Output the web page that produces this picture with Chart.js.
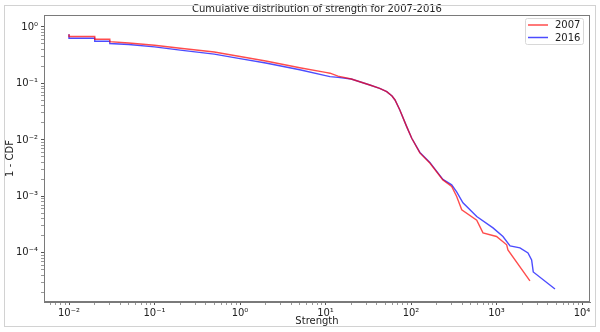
<!DOCTYPE html>
<html>
<head>
<meta charset="utf-8">
<script src="https://cdn.jsdelivr.net/npm/chart.js@4/dist/chart.umd.min.js"></script>
<style>
  body { margin: 0; background: #fff; }
  #wrap { position: relative; width: 600px; height: 332px; }
  #frame { position: absolute; left: 4px; top: 5px; width: 590px; height: 320px; border: 1px solid #d2d2d2; pointer-events: none; }
</style>
</head>
<body>
<div id="wrap">
  <canvas id="grafico-ccdf" width="600" height="332"></canvas>
  <div id="frame"></div>
</div>
<script>
// 1 - CDF of node strength, 2007
var strength2007 = [0.01, 0.01, 0.02, 0.02, 0.03, 0.03, 0.05, 0.1, 0.2, 0.5, 1, 2, 5, 10, 11.3, 14, 20, 33, 43, 52, 60, 65, 74, 89, 102, 127, 166, 236, 299, 342, 392, 587, 695, 1000, 1315, 1360, 2460];
var ccdf2007 = [0.74, 0.68, 0.68, 0.605, 0.605, 0.55, 0.52, 0.475, 0.42, 0.36, 0.3, 0.25, 0.19, 0.157, 0.152, 0.135, 0.12, 0.094, 0.082, 0.0716, 0.06, 0.051, 0.034, 0.0172, 0.0107, 0.0059, 0.0039, 0.00196, 0.0015, 0.001, 0.00058, 0.00038, 0.000226, 0.000195, 0.000139, 0.000113, 0.000032];

// 1 - CDF of node strength, 2016
var strength2016 = [0.01, 0.01, 0.02, 0.02, 0.03, 0.03, 0.05, 0.1, 0.2, 0.5, 1, 2, 5, 10, 11.3, 14, 20, 33, 43, 52, 60, 65, 74, 89, 102, 127, 166, 236, 299, 342, 405, 587, 910, 1190, 1440, 1880, 2335, 2575, 2690, 4830];
var ccdf2016 = [0.74, 0.63, 0.63, 0.56, 0.56, 0.51, 0.49, 0.445, 0.39, 0.33, 0.275, 0.23, 0.175, 0.138, 0.132, 0.128, 0.12, 0.094, 0.082, 0.0716, 0.06, 0.051, 0.034, 0.0172, 0.0107, 0.006, 0.004, 0.002, 0.0016, 0.0012, 0.00077, 0.00044, 0.000277, 0.000195, 0.000133, 0.000123, 0.0001, 0.000075, 0.000046, 0.000023];

var xLimites = [0.0051, 12400];
var yLimites = [0.0000135, 1.63];

var fonte = 'DejaVu Sans';
var superscritos = { '-': '\u207B', '0': '\u2070', '1': '\u00B9', '2': '\u00B2', '3': '\u00B3', '4': '\u2074', '5': '\u2075', '6': '\u2076', '7': '\u2077', '8': '\u2078', '9': '\u2079' };

function pontos(xs, ys) {
    return xs.map((x, i) => ({ x: x, y: ys[i] }));
}

function ehPotencia(v) {
    var e = Math.log10(v);
    return Math.abs(e - Math.round(e)) < 1e-6;
}

function rotuloPotencia(v) {
    if (!ehPotencia(v)) return '';
    var e = String(Math.round(Math.log10(v)));
    return '10' + e.split('').map(c => superscritos[c]).join('');
}

// major + minor ticks like a log axis in matplotlib
function ticksLog(scale) {
    var ticks = [];
    var e0 = Math.floor(Math.log10(scale.min));
    var e1 = Math.ceil(Math.log10(scale.max));
    for (var e = e0; e <= e1; e++) {
        for (var m = 1; m <= 9; m++) {
            var v = m * Math.pow(10, e);
            if (v >= scale.min && v <= scale.max) ticks.push({ value: v, major: m === 1 });
        }
    }
    scale.ticks = ticks;
}

// right/top spines
var moldura = {
    id: 'moldura',
    afterDraw(chart) {
        var a = chart.chartArea, ctx = chart.ctx;
        ctx.save();
        ctx.strokeStyle = '#7a7a7a';
        ctx.lineWidth = 1;
        ctx.strokeRect(Math.round(a.left) + 0.5, Math.round(a.top) + 0.5, Math.round(a.right - a.left) - 1, Math.round(a.bottom - a.top) - 1);
        ctx.restore();
    }
};

// legend box in the upper right corner of the axes
var legenda = {
    id: 'legenda',
    afterDraw(chart) {
        var a = chart.chartArea, ctx = chart.ctx;
        var x = a.right - 65, y = a.top + 3, w = 58, h = 26;
        ctx.save();
        ctx.fillStyle = 'rgba(255,255,255,0.9)';
        ctx.strokeStyle = '#d8d8d8';
        ctx.lineWidth = 1;
        ctx.beginPath();
        ctx.roundRect(x + 0.5, y + 0.5, w, h, 2);
        ctx.fill();
        ctx.stroke();
        ctx.font = '10px "' + fonte + '"';
        ctx.textBaseline = 'middle';
        chart.data.datasets.forEach((ds, i) => {
            var ly = y + 7 + i * 12.5;
            ctx.strokeStyle = ds.borderColor;
            ctx.lineWidth = 1.5;
            ctx.beginPath();
            ctx.moveTo(x + 3, ly);
            ctx.lineTo(x + 23, ly);
            ctx.stroke();
            ctx.fillStyle = '#222';
            ctx.fillText(ds.label, x + 30, ly + 0.5);
        });
        ctx.restore();
    }
};

function corTick(ctx) {
    return ctx.tick && ctx.tick.major ? '#555' : '#999';
}

var grafico = new Chart(document.getElementById('grafico-ccdf').getContext('2d'), {
    type: 'scatter',
    data: {
        datasets: [{
            label: '2007',
            data: pontos(strength2007, ccdf2007),
            borderColor: 'rgba(255,0,0,0.7)',
            backgroundColor: 'rgba(255,0,0,0.7)',
            borderWidth: 1.4,
            showLine: true,
            pointRadius: 0
        }, {
            label: '2016',
            data: pontos(strength2016, ccdf2016),
            borderColor: 'rgba(0,0,255,0.7)',
            backgroundColor: 'rgba(0,0,255,0.7)',
            borderWidth: 1.4,
            showLine: true,
            pointRadius: 0
        }]
    },
    plugins: [moldura, legenda],
    options: {
        responsive: false,
        animation: false,
        layout: { padding: { left: 0, right: 10, top: 0, bottom: 0 } },
        plugins: {
            legend: { display: false },
            tooltip: { enabled: false },
            title: {
                display: true,
                text: 'Cumulative distribution of strength for 2007-2016',
                fullSize: false,
                color: '#222',
                font: { family: fonte, size: 10, weight: 'normal' },
                padding: { top: 3, bottom: 0 }
            }
        },
        scales: {
            x: {
                type: 'logarithmic',
                min: xLimites[0],
                max: xLimites[1],
                afterBuildTicks: ticksLog,
                afterFit: (s) => { s.height = 30; },
                border: { display: true, color: '#7a7a7a' },
                grid: { drawOnChartArea: false, drawTicks: true, tickLength: 3, tickColor: corTick },
                ticks: {
                    autoSkip: false,
                    maxRotation: 0,
                    padding: 2,
                    color: '#222',
                    font: { family: fonte, size: 10 },
                    callback: (v) => rotuloPotencia(v)
                },
                title: {
                    display: true,
                    text: 'Strength',
                    color: '#222',
                    font: { family: fonte, size: 10 },
                    padding: { top: 0, bottom: 5 }
                }
            },
            y: {
                type: 'logarithmic',
                min: yLimites[0],
                max: yLimites[1],
                afterBuildTicks: ticksLog,
                afterFit: (s) => { s.width = 44; },
                border: { display: true, color: '#7a7a7a' },
                grid: { drawOnChartArea: false, drawTicks: true, tickLength: 3, tickColor: corTick },
                ticks: {
                    autoSkip: false,
                    padding: 3,
                    color: '#222',
                    font: { family: fonte, size: 10 },
                    callback: (v) => rotuloPotencia(v)
                },
                title: {
                    display: true,
                    text: '1 - CDF',
                    color: '#222',
                    font: { family: fonte, size: 10 },
                    padding: { top: 4, bottom: 0 }
                }
            }
        }
    }
});
</script>
</body>
</html>
